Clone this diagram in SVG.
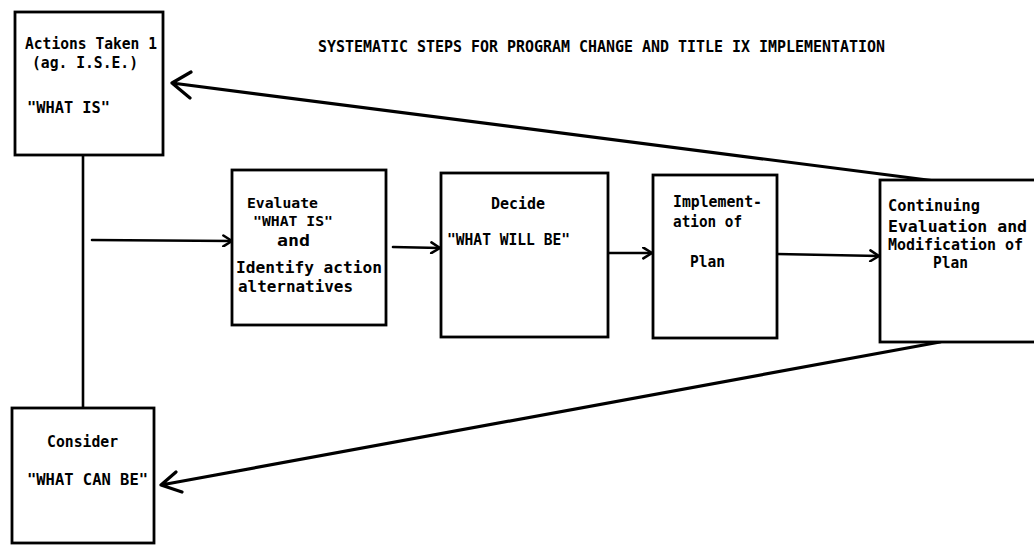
<svg xmlns="http://www.w3.org/2000/svg" width="1034" height="546" viewBox="0 0 1034 546">
<style>
.box{fill:#fff;stroke:#000;stroke-width:2.8}
.ln{fill:none;stroke:#000;stroke-width:2.6;stroke-linecap:round;stroke-linejoin:round}
.big{fill:none;stroke:#000;stroke-width:3.2;stroke-linecap:round;stroke-linejoin:round}
text{font-family:"DejaVu Sans Mono","Liberation Mono",monospace;font-weight:bold;font-size:16px;fill:#000}
.t{font-size:15px}
.s{font-size:14px}
</style>
<defs>
<marker id="ah" viewBox="0 0 12 12" refX="11" refY="6" markerWidth="13" markerHeight="13" markerUnits="userSpaceOnUse" orient="auto">
<path d="M3,1 L11,6 L3,11" fill="none" stroke="#000" stroke-width="2.4" stroke-linecap="round" stroke-linejoin="round"/>
</marker>
</defs>
<rect width="1034" height="546" fill="#fff"/>
<text class="t" x="318" y="52" textLength="567" lengthAdjust="spacingAndGlyphs">SYSTEMATIC STEPS FOR PROGRAM CHANGE AND TITLE IX IMPLEMENTATION</text>
<g id="connectors">
<line class="ln" x1="83" y1="155" x2="83" y2="408"/>
<line class="ln" x1="92" y1="240" x2="232" y2="241" marker-end="url(#ah)"/>
<line class="ln" x1="393" y1="247" x2="440" y2="248" marker-end="url(#ah)"/>
<line class="ln" x1="608" y1="253" x2="652" y2="253" marker-end="url(#ah)"/>
<line class="ln" x1="777" y1="254" x2="879" y2="256" marker-end="url(#ah)"/>
<path class="big" d="M943,182 L172,83 M191,72 L172,83 L190,98"/>
<path class="big" d="M940,342 L161,485 M176,472 L161,485 L182,492"/>
</g>
<g id="n1">
<rect class="box" x="15" y="12" width="148" height="143"/>
<text x="25" y="49" textLength="132" lengthAdjust="spacingAndGlyphs">Actions Taken 1</text>
<text x="32" y="68" textLength="106" lengthAdjust="spacingAndGlyphs">(ag. I.S.E.)</text>
<text x="27" y="113" textLength="83" lengthAdjust="spacingAndGlyphs">"WHAT IS"</text>
</g>
<g id="n2">
<rect class="box" x="12" y="408" width="142" height="135"/>
<text x="47" y="447" textLength="71" lengthAdjust="spacingAndGlyphs">Consider</text>
<text x="27" y="485" textLength="121" lengthAdjust="spacingAndGlyphs">"WHAT CAN BE"</text>
</g>
<g id="n3">
<rect class="box" x="232" y="170" width="154" height="155"/>
<text class="s" x="247" y="208" textLength="71" lengthAdjust="spacingAndGlyphs">Evaluate</text>
<text class="s" x="253" y="226" textLength="80" lengthAdjust="spacingAndGlyphs">"WHAT IS"</text>
<text x="277" y="246" textLength="33" lengthAdjust="spacingAndGlyphs">and</text>
<text x="236" y="273" textLength="146" lengthAdjust="spacingAndGlyphs">Identify action</text>
<text x="238" y="292" textLength="115" lengthAdjust="spacingAndGlyphs">alternatives</text>
</g>
<g id="n4">
<rect class="box" x="441" y="173" width="167" height="164"/>
<text x="491" y="209" textLength="54" lengthAdjust="spacingAndGlyphs">Decide</text>
<text x="447" y="245" textLength="123" lengthAdjust="spacingAndGlyphs">"WHAT WILL BE"</text>
</g>
<g id="n5">
<rect class="box" x="653" y="175" width="124" height="163"/>
<text x="673" y="207" textLength="89" lengthAdjust="spacingAndGlyphs">Implement-</text>
<text x="673" y="227" textLength="69" lengthAdjust="spacingAndGlyphs">ation of</text>
<text x="690" y="267" textLength="35" lengthAdjust="spacingAndGlyphs">Plan</text>
</g>
<g id="n6">
<rect class="box" x="880" y="180" width="160" height="162"/>
<text x="888" y="211" textLength="92" lengthAdjust="spacingAndGlyphs">Continuing</text>
<text x="888" y="232" textLength="139" lengthAdjust="spacingAndGlyphs">Evaluation and</text>
<text x="888" y="250" textLength="135" lengthAdjust="spacingAndGlyphs">Modification of</text>
<text x="933" y="268" textLength="35" lengthAdjust="spacingAndGlyphs">Plan</text>
</g>
</svg>
